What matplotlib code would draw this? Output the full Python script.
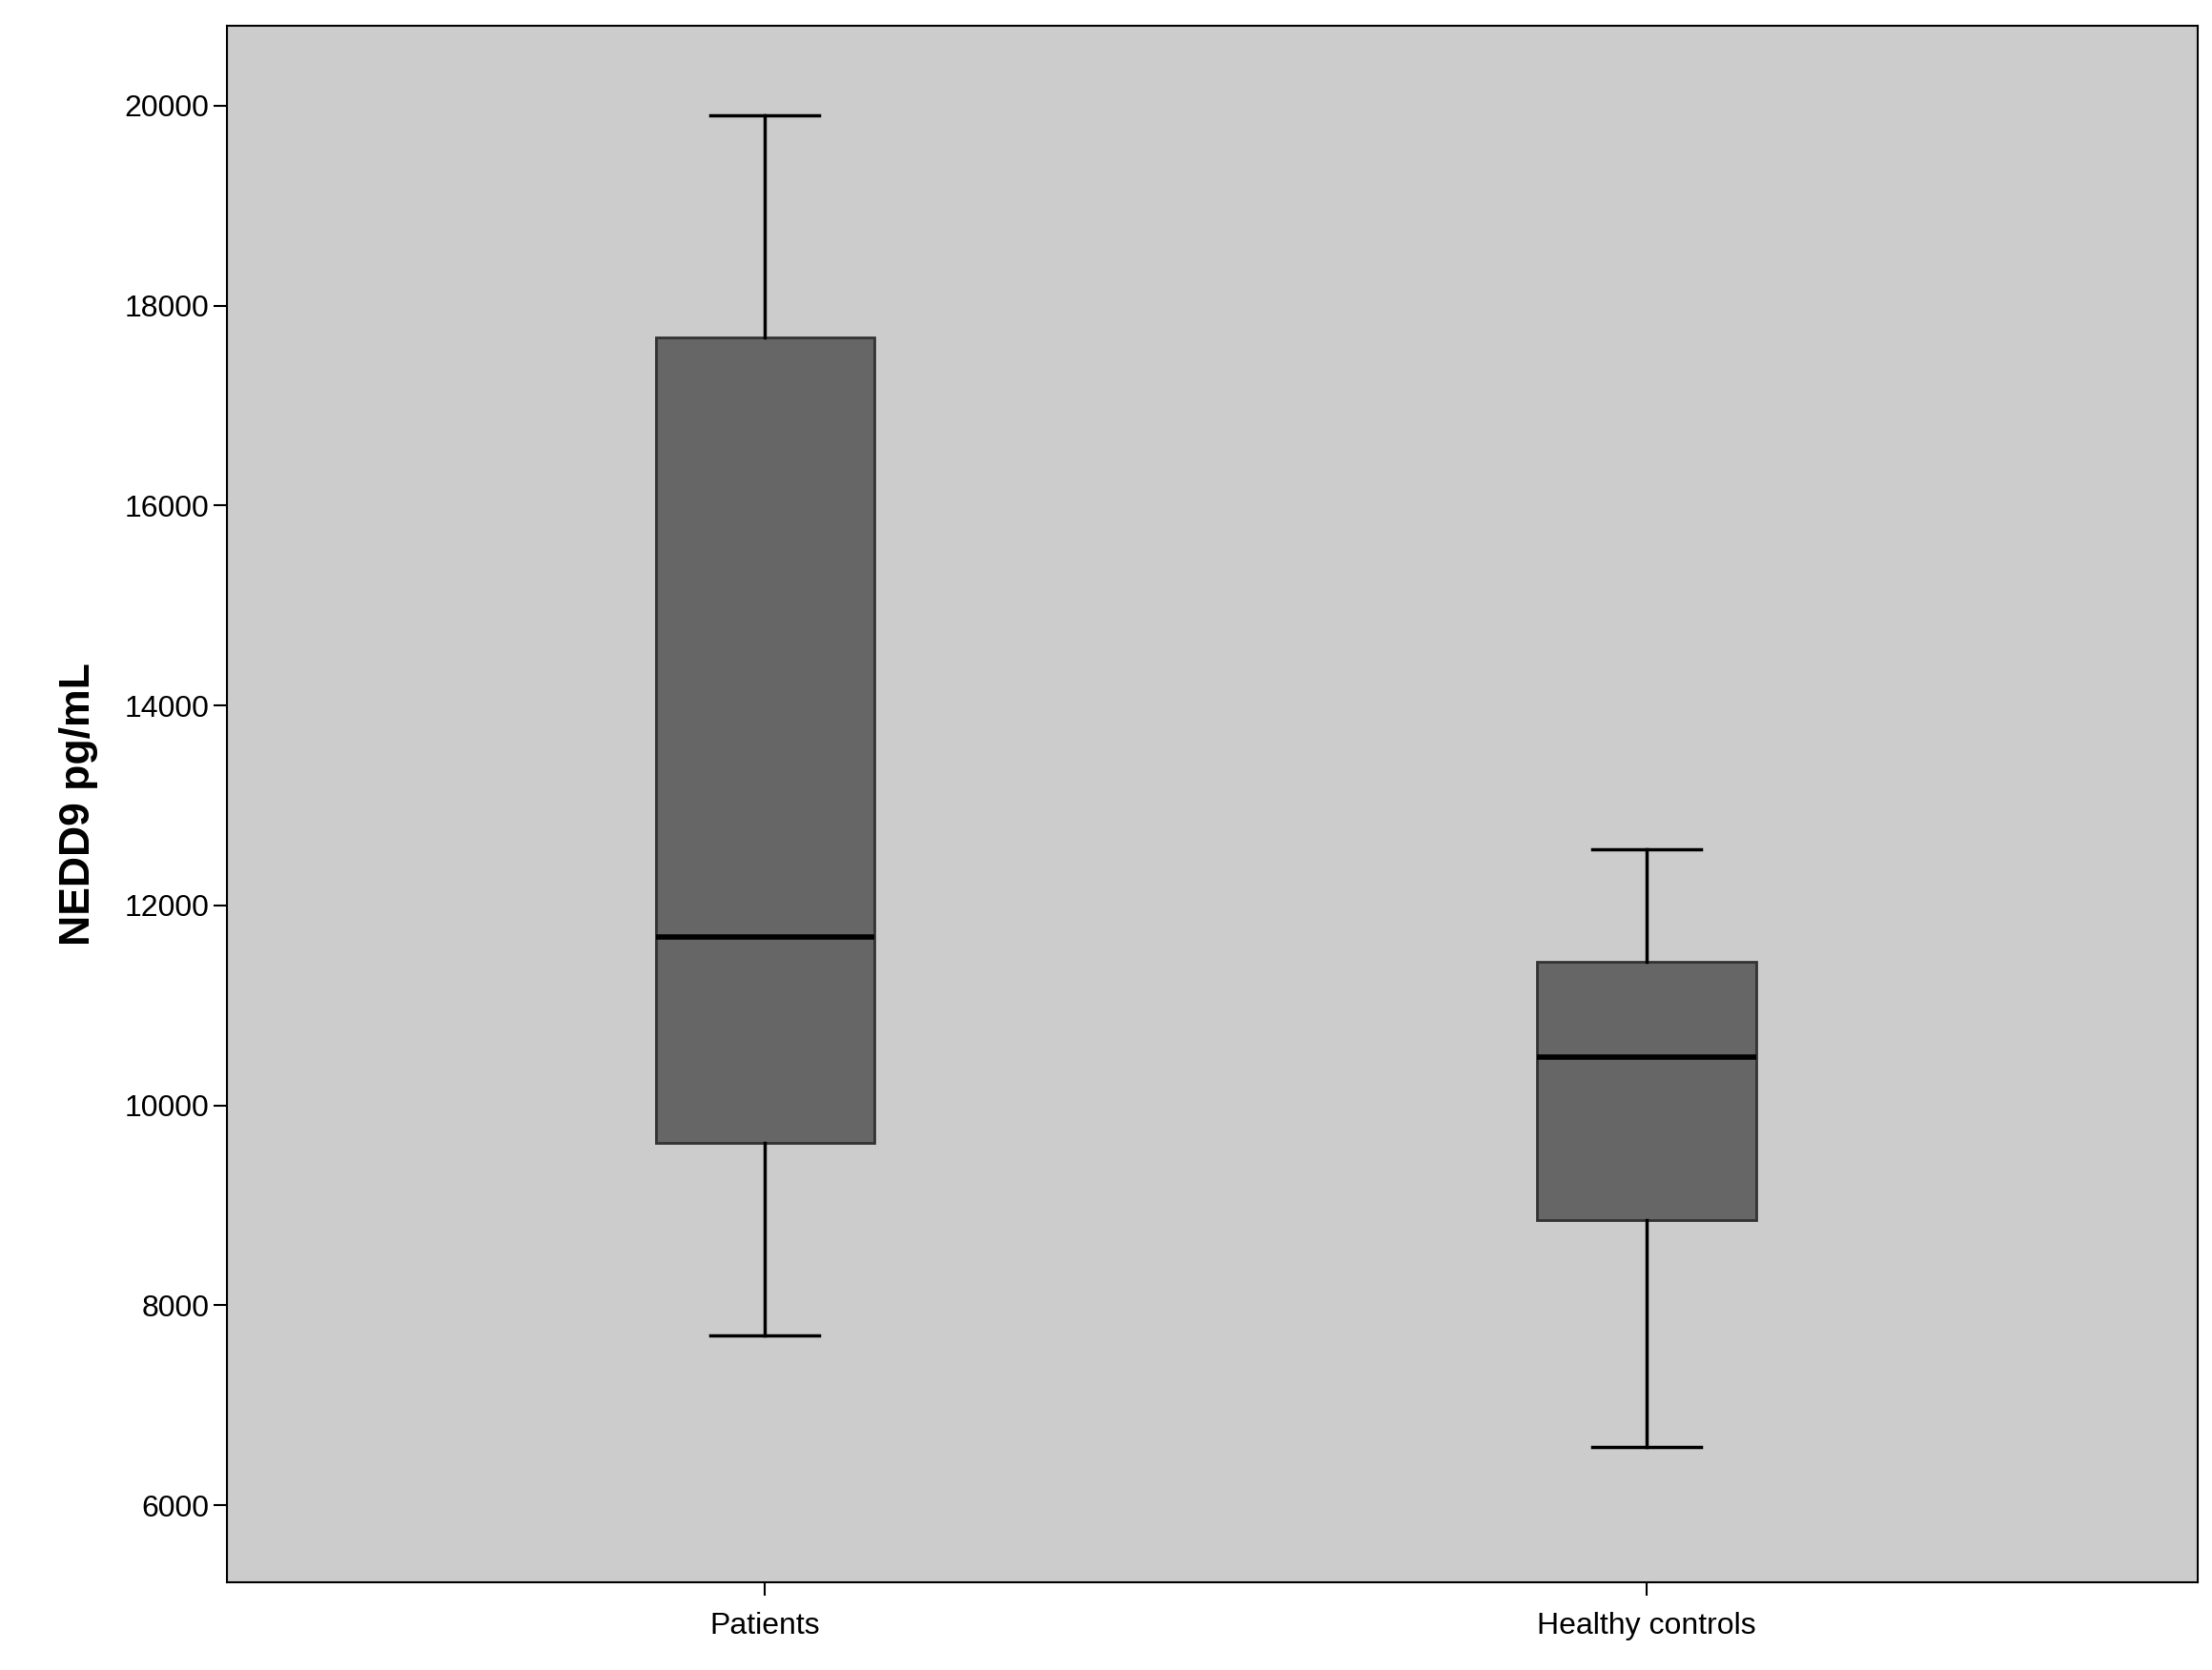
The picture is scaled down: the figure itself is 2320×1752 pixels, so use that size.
import matplotlib
matplotlib.use("Agg")
import matplotlib.pyplot as plt

plt.rcParams['font.family'] = ['Liberation Sans', 'DejaVu Sans']

categories = ["Patients", "Healthy controls"]
whislo = [7700, 6580]
q1 = [9620, 8850]
med = [11680, 10480]
q3 = [17680, 11440]
whishi = [19900, 12560]
yticks = [6000, 8000, 10000, 12000, 14000, 16000, 18000, 20000]

fig = plt.figure(figsize=(23.2, 17.52), dpi=100)
ax = fig.add_axes([0.1026, 0.0523, 0.891, 0.9325])
ax.set_facecolor("#cccccc")
stats = [dict(label=c, whislo=a, q1=b, med=m, q3=d, whishi=e, fliers=[])
         for c, a, b, m, d, e in zip(categories, whislo, q1, med, q3, whishi)]
ax.bxp(stats, positions=[1, 2], widths=0.248, patch_artist=True, showfliers=False,
       boxprops=dict(facecolor="#666666", edgecolor="#333333", linewidth=2),
       medianprops=dict(color="black", linewidth=4),
       whiskerprops=dict(color="black", linewidth=2.5),
       capprops=dict(color="black", linewidth=2.5), capwidths=0.123)
ax.set_xlim(0.39, 2.625)
ax.set_ylim(5225, 20804)
ax.set_yticks(yticks)
ax.set_xticks([1, 2])
ax.set_xticklabels(categories)
ax.tick_params(axis="both", labelsize=23, length=10, width=1.5, direction="out")
ax.tick_params(axis="x", pad=12)
for s in ax.spines.values():
    s.set_linewidth(1.5)
ax.set_ylabel("NEDD9 pg/mL", fontsize=32, fontweight="bold", labelpad=20)
fig.savefig("out.png", dpi=100, facecolor="white")
